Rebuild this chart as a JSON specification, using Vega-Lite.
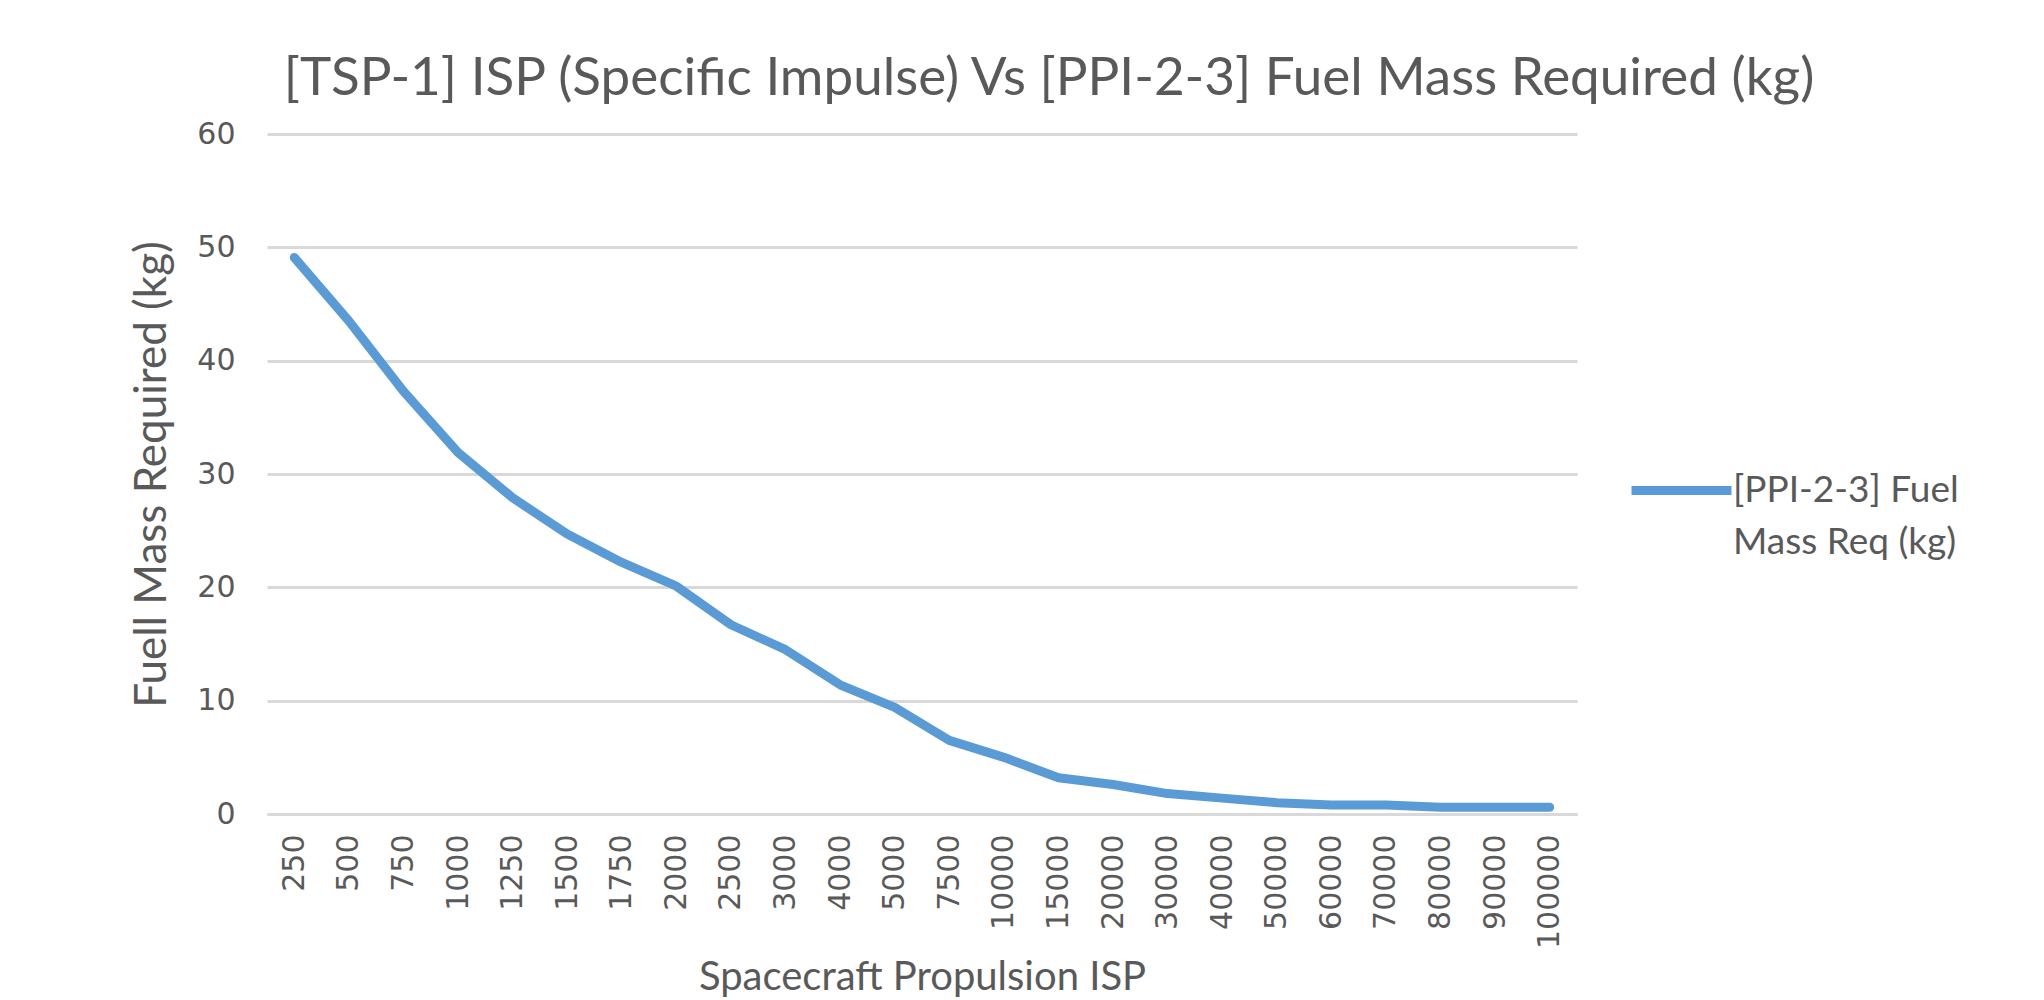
{
  "$schema": "https://vega.github.io/schema/vega-lite/v6.json",
  "width": 1310,
  "height": 680,
  "autosize": {"type": "none"},
  "padding": {"left": 267, "top": 134, "right": 467, "bottom": 186},
  "background": "#FFFFFF",
  "title": {
    "text": "[TSP-1] ISP (Specific Impulse) Vs [PPI-2-3] Fuel Mass Required (kg)",
    "anchor": "middle",
    "dx": 127,
    "offset": 13,
    "font": "Lato",
    "fontSize": 53,
    "fontWeight": "normal",
    "color": "#595959"
  },
  "data": {
    "values": [
      {"isp": "250", "fuel": 49.1, "series": "[PPI-2-3] Fuel Mass Req (kg)"},
      {"isp": "500", "fuel": 43.5, "series": "[PPI-2-3] Fuel Mass Req (kg)"},
      {"isp": "750", "fuel": 37.3, "series": "[PPI-2-3] Fuel Mass Req (kg)"},
      {"isp": "1000", "fuel": 31.9, "series": "[PPI-2-3] Fuel Mass Req (kg)"},
      {"isp": "1250", "fuel": 27.9, "series": "[PPI-2-3] Fuel Mass Req (kg)"},
      {"isp": "1500", "fuel": 24.7, "series": "[PPI-2-3] Fuel Mass Req (kg)"},
      {"isp": "1750", "fuel": 22.2, "series": "[PPI-2-3] Fuel Mass Req (kg)"},
      {"isp": "2000", "fuel": 20.1, "series": "[PPI-2-3] Fuel Mass Req (kg)"},
      {"isp": "2500", "fuel": 16.7, "series": "[PPI-2-3] Fuel Mass Req (kg)"},
      {"isp": "3000", "fuel": 14.5, "series": "[PPI-2-3] Fuel Mass Req (kg)"},
      {"isp": "4000", "fuel": 11.4, "series": "[PPI-2-3] Fuel Mass Req (kg)"},
      {"isp": "5000", "fuel": 9.4, "series": "[PPI-2-3] Fuel Mass Req (kg)"},
      {"isp": "7500", "fuel": 6.5, "series": "[PPI-2-3] Fuel Mass Req (kg)"},
      {"isp": "10000", "fuel": 5.0, "series": "[PPI-2-3] Fuel Mass Req (kg)"},
      {"isp": "15000", "fuel": 3.2, "series": "[PPI-2-3] Fuel Mass Req (kg)"},
      {"isp": "20000", "fuel": 2.6, "series": "[PPI-2-3] Fuel Mass Req (kg)"},
      {"isp": "30000", "fuel": 1.8, "series": "[PPI-2-3] Fuel Mass Req (kg)"},
      {"isp": "40000", "fuel": 1.4, "series": "[PPI-2-3] Fuel Mass Req (kg)"},
      {"isp": "50000", "fuel": 1.0, "series": "[PPI-2-3] Fuel Mass Req (kg)"},
      {"isp": "60000", "fuel": 0.8, "series": "[PPI-2-3] Fuel Mass Req (kg)"},
      {"isp": "70000", "fuel": 0.8, "series": "[PPI-2-3] Fuel Mass Req (kg)"},
      {"isp": "80000", "fuel": 0.6, "series": "[PPI-2-3] Fuel Mass Req (kg)"},
      {"isp": "90000", "fuel": 0.6, "series": "[PPI-2-3] Fuel Mass Req (kg)"},
      {"isp": "100000", "fuel": 0.6, "series": "[PPI-2-3] Fuel Mass Req (kg)"}
    ]
  },
  "mark": {"type": "line", "strokeWidth": 9, "strokeCap": "round", "strokeJoin": "round"},
  "encoding": {
    "x": {
      "field": "isp",
      "type": "ordinal",
      "sort": null,
      "scale": {"paddingInner": 0, "paddingOuter": 0.5},
      "axis": {
        "title": "Spacecraft Propulsion ISP",
        "titleFont": "Lato",
        "titleFontSize": 40,
        "titleFontWeight": "normal",
        "titleColor": "#595959",
        "titlePadding": 9,
        "labelAngle": 270,
        "labelFont": "DejaVu Sans",
        "labelFontSize": 30,
        "labelColor": "#595959",
        "labelPadding": 20,
        "ticks": false,
        "domain": true,
        "domainColor": "#D9D9D9",
        "domainWidth": 3,
        "grid": false
      }
    },
    "y": {
      "field": "fuel",
      "type": "quantitative",
      "scale": {"domain": [0, 60], "nice": false},
      "axis": {
        "title": "Fuell Mass Required (kg)",
        "titleFont": "Lato",
        "titleFontSize": 44,
        "titleFontWeight": "normal",
        "titleColor": "#595959",
        "titlePadding": 22,
        "values": [0, 10, 20, 30, 40, 50, 60],
        "labelFont": "DejaVu Sans",
        "labelFontSize": 30,
        "labelColor": "#595959",
        "labelPadding": 32,
        "ticks": false,
        "domain": false,
        "grid": true,
        "gridColor": "#D9D9D9",
        "gridWidth": 3
      }
    },
    "color": {
      "field": "series",
      "type": "nominal",
      "scale": {"range": ["#5B9BD5"]},
      "legend": {
        "title": null,
        "orient": "none",
        "legendX": 1360,
        "legendY": 302,
        "symbolType": "stroke",
        "symbolSize": 10000,
        "symbolStrokeWidth": 9,
        "labelExpr": "['[PPI-2-3] Fuel', 'Mass Req (kg)']",
        "labelFont": "Lato",
        "labelFontSize": 37,
        "labelColor": "#595959",
        "labelLimit": 500,
        "labelOffset": -3
      }
    }
  },
  "config": {"view": {"stroke": null}, "style": {"guide-label": {"lineHeight": 52}}}
}
